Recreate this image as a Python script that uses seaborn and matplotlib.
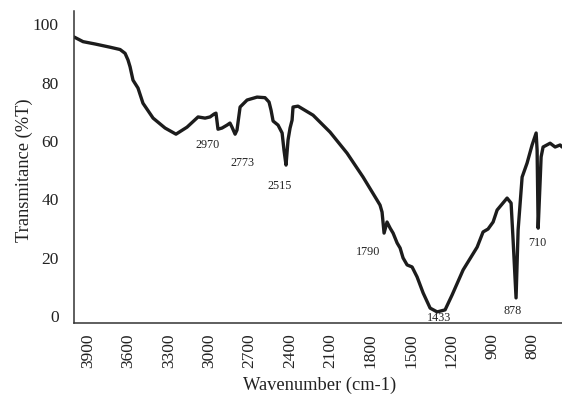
import numpy as np
import pandas as pd
import matplotlib
matplotlib.use("Agg")
import matplotlib.pyplot as plt
import seaborn as sns

# Axis tick labels (evenly spaced on the original chart)
tick_wavenumbers = [3900, 3600, 3300, 3000, 2700, 2400, 2100, 1800, 1500, 1200, 900, 800]

# Spectrum (wavenumber on the chart's tick scale, %T)
wavenumber = [4004, 3937, 3848, 3737, 3662, 3625, 3603, 3588, 3566, 3529, 3492, 3417,
              3328, 3247, 3165, 3083, 3031, 2994, 2964, 2950, 2935, 2905, 2868, 2846,
              2831, 2808, 2794, 2771, 2719, 2645, 2586, 2556, 2541, 2526, 2489, 2459,
              2445, 2430, 2415, 2400, 2385, 2378, 2341, 2229, 2103, 1977, 1858, 1754,
              1732, 1717, 1702, 1680, 1657, 1635, 1605, 1583, 1561, 1531, 1494, 1457,
              1412, 1360, 1308, 1249, 1197, 1115, 1011, 967, 930, 897.5, 887.6, 862.9,
              853, 848, 840.7, 835.6, 825.7, 813.4, 801, 791, 788.6, 786, 781, 778.7,
              773.8, 756.4, 744, 731.7, 726.8]
transmittance = [95.6, 94.0, 93.2, 92.1, 91.3, 90.0, 87.7, 85.4, 80.8, 78.1, 72.9, 67.8,
                 64.4, 62.3, 64.7, 68.2, 67.8, 68.2, 69.2, 69.5, 64.0, 64.4, 65.4, 66.1,
                 64.7, 62.3, 63.7, 71.6, 74.0, 75.0, 74.8, 73.3, 70.5, 66.8, 65.4, 62.7,
                 56.8, 51.7, 60.3, 64.4, 67.1, 71.6, 71.9, 68.8, 63.0, 55.8, 47.6, 39.7,
                 38.0, 35.6, 28.4, 32.2, 30.1, 28.4, 25.0, 23.3, 19.9, 17.5, 16.8, 13.4,
                 7.9, 2.7, 1.4, 2.1, 7.2, 15.8, 23.6, 28.8, 29.8, 32.2, 36.3, 40.4,
                 38.7, 26.0, 6.2, 29.5, 47.6, 52.4, 58.6, 62.7, 56.8, 30.1, 46.6, 54.5,
                 57.9, 59.2, 57.9, 58.6, 57.9]

# Peak annotations: label, wavenumber position of text, %T position of text
peak_labels = ["2970", "2773", "2515", "1790", "1433", "878", "710"]
peak_text_wn = [3016, 2756, 2474, 1821, 1294, 848, 788.6]
peak_text_t = [58.6, 52.4, 44.5, 21.9, -0.7, 1.7, 25.0]

# Map wavenumbers onto the evenly spaced tick positions of the chart
ext_wn = np.array([4200] + tick_wavenumbers + [700], dtype=float)
ext_pos = np.arange(-1, len(tick_wavenumbers) + 1, dtype=float)


def to_pos(w):
    return np.interp(-np.asarray(w, dtype=float), -ext_wn, ext_pos)


df = pd.DataFrame({"pos": to_pos(wavenumber), "T": transmittance})

sns.set_style("white")
plt.rcParams["font.family"] = ["Liberation Serif", "DejaVu Serif"]

W, H = 562, 408
fig = plt.figure(figsize=(W / 100, H / 100), dpi=100)
ax = fig.add_axes([74 / W, (H - 323) / H, (562 - 74) / W, (323 - 11) / H])

sns.lineplot(data=df, x="pos", y="T", ax=ax, color="#1c1c1c", linewidth=2.4,
             sort=False, estimator=None)
ax.lines[0].set_solid_joinstyle("round")
ax.lines[0].set_solid_capstyle("round")

ax.set_xlim(-0.347, 11.73)
ax.set_ylim(-2.4, 104.5)
ax.set_xticks(range(len(tick_wavenumbers)))
ax.set_xticklabels([str(t) for t in tick_wavenumbers], rotation=90, fontsize=12.5)
ax.set_yticks([0, 20, 40, 60, 80, 100])
ax.set_yticklabels(["0", "20", "40", "60", "80", "100"], fontsize=12.5)
ax.tick_params(axis="both", length=0, colors="#222222")
ax.tick_params(axis="x", pad=7.5)
ax.tick_params(axis="y", pad=11)

for s in ["top", "right"]:
    ax.spines[s].set_visible(False)
for s in ["left", "bottom"]:
    ax.spines[s].set_color("#333333")
    ax.spines[s].set_linewidth(1.1)

ax.set_xlabel("Wavenumber (cm-1)", fontsize=13.3, color="#222222")
ax.set_ylabel("Transmitance (%T)", fontsize=13.3, color="#222222")
ax.xaxis.set_label_coords((320 - 74) / (562 - 74), -(377 - 323) / (323 - 11))
ax.yaxis.set_label_coords(-(74 - 33) / (562 - 74), (323 - 170) / (323 - 11))

for lab, w, t in zip(peak_labels, peak_text_wn, peak_text_t):
    ax.text(float(to_pos(w)), t, lab, ha="center", va="center", fontsize=8.7,
            color="#222222")

fig.savefig("out.png", dpi=100)
